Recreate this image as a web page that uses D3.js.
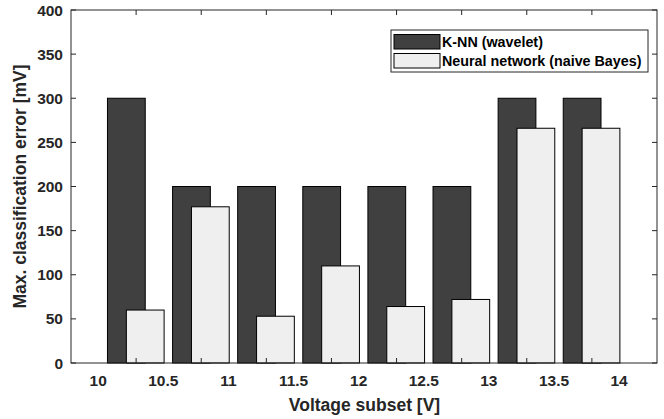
<!DOCTYPE html>
<html>
<head>
<meta charset="utf-8">
<script src="https://cdn.jsdelivr.net/npm/d3@7"></script>
<style>
  body { margin: 0; background: #fff; }
  text { font-family: "Liberation Sans", Arial, sans-serif; font-weight: bold; fill: #262626; }
</style>
</head>
<body>
<svg width="664" height="419"></svg>
<script>
// data
const groups = [1, 2, 3, 4, 5, 6, 7, 8];
const knnWavelet = [300, 200, 200, 200, 200, 200, 300, 300];
const nnBayes = [60, 177, 53, 110, 64, 72, 266, 266];
const voltageLabels = [10, 10.5, 11, 11.5, 12, 12.5, 13, 13.5, 14];
const yTicks = [0, 50, 100, 150, 200, 250, 300, 350, 400];
const seriesNames = ["K-NN (wavelet)", "Neural network (naive Bayes)"];

const svg = d3.select("svg");
const mLeft = 71, mRight = 657, mTop = 10, mBottom = 363;

const x = d3.scaleLinear().domain([0, 9]).range([mLeft, mRight]);
const y = d3.scaleLinear().domain([0, 400]).range([mBottom, mTop]);
// voltage labels sit a bit left of the group ticks
const xv = d3.scaleLinear().domain([10, 14]).range([x(0.418), x(8.418)]);

const barW = 0.58;
const series = [
    { name: seriesNames[0], values: knnWavelet, off: -0.15, fill: "#404040" },
    { name: seriesNames[1], values: nnBayes, off: 0.14, fill: "#efefef" }
];

const root = svg.append("g");

series.forEach(s => {
    root.append("g")
        .selectAll("rect")
        .data(groups)
        .enter().append("rect")
        .attr("x", d => x(d + s.off - barW / 2))
        .attr("width", x(barW) - x(0))
        .attr("y", (d, i) => y(s.values[i]))
        .attr("height", (d, i) => y(0) - y(s.values[i]))
        .attr("fill", s.fill)
        .attr("stroke", "#000")
        .attr("stroke-width", 1);
});

// box and inward ticks
const axisColor = "#262626";
root.append("rect")
    .attr("x", mLeft).attr("y", mTop)
    .attr("width", mRight - mLeft).attr("height", mBottom - mTop)
    .attr("fill", "none").attr("stroke", axisColor).attr("stroke-width", 1);

const tk = 5;
root.append("g").selectAll("line")
    .data(groups).enter().append("line")
    .attr("x1", d => x(d)).attr("x2", d => x(d))
    .attr("y1", mBottom).attr("y2", mBottom - tk)
    .attr("stroke", axisColor);
root.append("g").selectAll("line")
    .data(groups).enter().append("line")
    .attr("x1", d => x(d)).attr("x2", d => x(d))
    .attr("y1", mTop).attr("y2", mTop + tk)
    .attr("stroke", axisColor);
root.append("g").selectAll("line")
    .data(yTicks).enter().append("line")
    .attr("x1", mLeft).attr("x2", mLeft + tk)
    .attr("y1", d => y(d)).attr("y2", d => y(d))
    .attr("stroke", axisColor);
root.append("g").selectAll("line")
    .data(yTicks).enter().append("line")
    .attr("x1", mRight).attr("x2", mRight - tk)
    .attr("y1", d => y(d)).attr("y2", d => y(d))
    .attr("stroke", axisColor);

// tick labels
root.append("g").selectAll("text")
    .data(yTicks).enter().append("text")
    .attr("x", mLeft - 8).attr("y", d => y(d) + 5.5)
    .attr("text-anchor", "end")
    .style("font-size", "15.5px")
    .text(d => d);

root.append("g").selectAll("text")
    .data(voltageLabels).enter().append("text")
    .attr("x", d => xv(d)).attr("y", 386)
    .attr("text-anchor", "middle")
    .style("font-size", "15.5px")
    .text(d => d);

// axis titles
svg.append("text")
    .attr("x", 364.5).attr("y", 411)
    .attr("text-anchor", "middle")
    .style("font-size", "17.5px")
    .text("Voltage subset [V]");

svg.append("text")
    .attr("transform", "translate(26," + ((mTop + mBottom) / 2) + ") rotate(-90)")
    .attr("text-anchor", "middle")
    .style("font-size", "17.5px")
    .text("Max. classification error [mV]");

// legend
const lg = svg.append("g");
lg.append("rect")
    .attr("x", 391).attr("y", 30).attr("width", 257).attr("height", 42)
    .attr("fill", "#fff").attr("stroke", "#262626");
series.forEach((s, i) => {
    lg.append("rect")
        .attr("x", 394).attr("y", 34.5 + i * 19)
        .attr("width", 46).attr("height", 14.5)
        .attr("fill", s.fill).attr("stroke", "#000");
    lg.append("text")
        .attr("x", 442).attr("y", 47 + i * 19)
        .style("font-size", "14.3px")
        .style("fill", "#000")
        .text(s.name);
});
</script>
</body>
</html>
